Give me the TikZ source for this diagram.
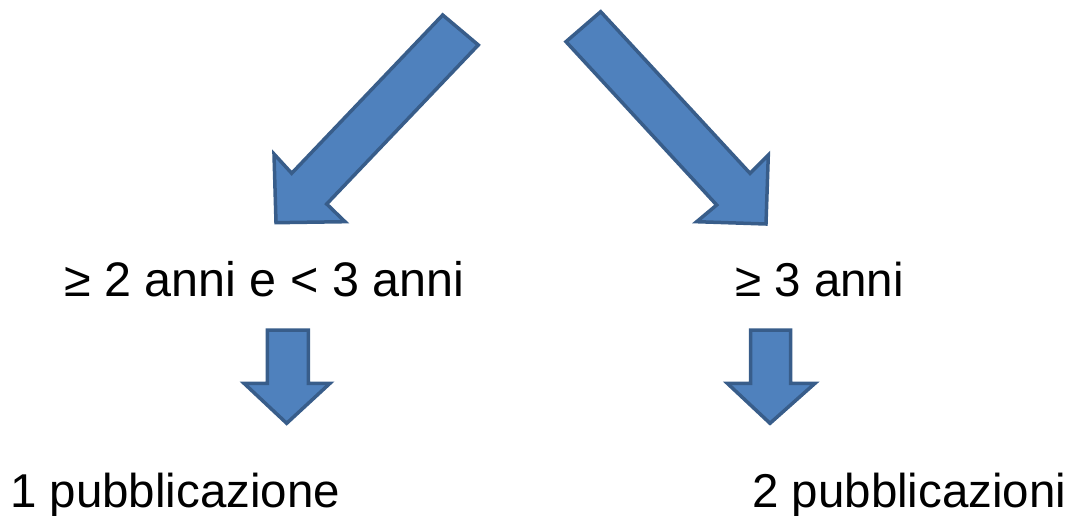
\documentclass[tikz,border=0pt]{standalone}
\usepackage{fontspec}
\setmainfont{Liberation Sans}
\definecolor{arrfill}{HTML}{4F81BD}
\definecolor{arrdraw}{HTML}{385D8A}
\begin{document}
\begin{tikzpicture}[x=1pt,y=-1pt,
  blockarrow/.style={fill=arrfill,draw=arrdraw,line width=3.5pt,line join=miter},
  lbl/.style={inner sep=0pt,anchor=base west,font=\fontsize{47.5}{55}\selectfont}]
\useasboundingbox (0,0) rectangle (1072,516);
% big diagonal arrows
\draw[blockarrow] (442.7,15) -- (478.3,45) -- (326.7,204) -- (345,221.7) -- (276,222.7) -- (274,154) -- (291.7,173.3) -- cycle;
\draw[blockarrow] (600.7,11.7) -- (750,173.3) -- (768.3,155) -- (766,224) -- (696.7,221.7) -- (716.7,205) -- (566,41.7) -- cycle;
% small down arrows
\draw[blockarrow] (267.3,330) -- (308.3,330) -- (308.3,383.3) -- (330,383.3) -- (286.7,423.3) -- (244,383.3) -- (267.3,383.3) -- cycle;
\draw[blockarrow] (750.7,330) -- (790.7,330) -- (790.7,383.3) -- (815,383.3) -- (770,423.3) -- (727.3,383.3) -- (750.7,383.3) -- cycle;
% labels
\node[lbl,font=\fontsize{48.5}{55}\selectfont] (a) at (64,296) {≥ 2 anni e < 3 anni};
\node[lbl] (b) at (735,296) {≥ 3 anni};
\node[lbl] (c) at (10,507) {1 pubblicazione};
\node[lbl] (d) at (752,507) {2 pubblicazioni};
\end{tikzpicture}
\end{document}
